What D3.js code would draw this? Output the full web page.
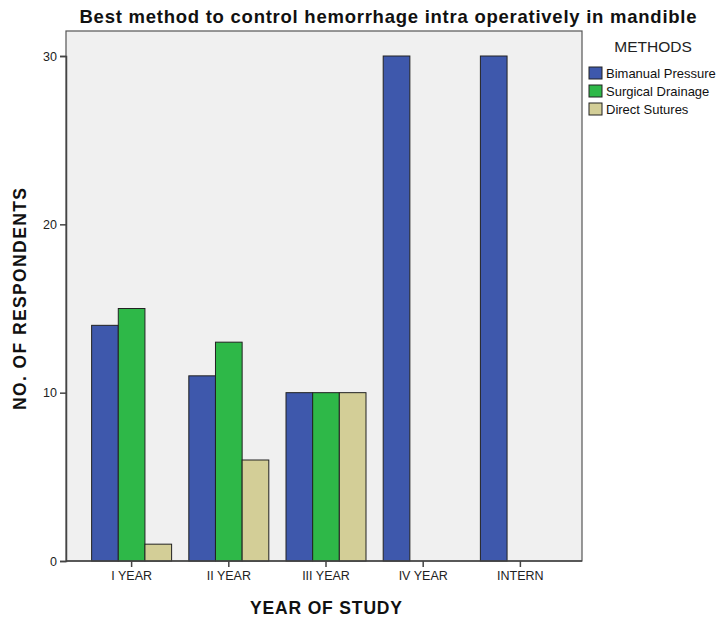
<!DOCTYPE html>
<html><head><meta charset="utf-8">
<script src="https://cdn.jsdelivr.net/npm/d3@7"></script>
<style>body{margin:0;background:#fff}svg{display:block}text{font-family:"Liberation Sans",Arial,sans-serif}</style>
</head><body><svg id="c" width="721" height="622"></svg>
<script>
const categories = ["I YEAR","II YEAR","III YEAR","IV YEAR","INTERN"];
const seriesNames = ["Bimanual Pressure","Surgical Drainage","Direct Sutures"];
const bimanual = [14,11,10,30,30];
const surgical = [15,13,10,0,0];
const sutures = [1,6,10,0,0];
const yTicks = [0,10,20,30];
const colors = ["#3e58ac","#2eb848","#d3ce97"];

const series = [bimanual, surgical, sutures];
const svg = d3.select("#c");
const L=66,R=582,T=31,B=561;
const x = d3.scaleBand().domain(categories).range([L+2,R+2]).paddingInner(0.177).paddingOuter(0.243);
const xs = d3.scaleBand().domain(seriesNames).range([0,x.bandwidth()]);
const y = d3.scaleLinear().domain([0,30]).range([B,56]);

svg.append("rect").attr("x",L).attr("y",T).attr("width",R-L).attr("height",B-T).attr("fill","#f0f0f0").attr("stroke","#555").attr("stroke-width",1.2);

categories.forEach((c,i)=>{
  seriesNames.forEach((s,j)=>{
    const v = series[j][i];
    if(v<=0) return;
    svg.append("rect").attr("x",x(c)+xs(s)).attr("y",y(v)).attr("width",xs.bandwidth()).attr("height",y(0)-y(v))
      .attr("fill",colors[j]).attr("stroke","#222").attr("stroke-width",1);
  });
});

const ya = svg.append("g").attr("transform",`translate(${L},0)`).call(d3.axisLeft(y).tickValues(yTicks).tickSize(6).tickPadding(3));
const xa = svg.append("g").attr("transform",`translate(0,${B})`).call(d3.axisBottom(x).tickSize(6).tickPadding(4));
xa.select(".domain").remove();
svg.append("line").attr("x1",L).attr("x2",R).attr("y1",B).attr("y2",B).attr("stroke","#444").attr("stroke-width",1.5);
[ya,xa].forEach(a=>{a.select(".domain").attr("stroke","#444").attr("stroke-width",1.5);a.selectAll(".tick line").attr("stroke","#444").attr("stroke-width",1.5);a.selectAll("text").attr("font-size",12.5).attr("fill","#222").attr("font-family","'Liberation Sans',Arial,sans-serif");});

svg.append("text").attr("x",388).attr("y",23).attr("text-anchor","middle").attr("font-size",18.5).attr("font-weight","bold").attr("fill","#111")
  .attr("textLength",617).attr("lengthAdjust","spacing").text("Best method to control hemorrhage intra operatively in mandible");
svg.append("text").attr("x",326).attr("y",614).attr("text-anchor","middle").attr("font-size",17.5).attr("font-weight","bold").attr("fill","#111")
  .attr("textLength",152).attr("lengthAdjust","spacing").text("YEAR OF STUDY");
svg.append("text").attr("transform","translate(26,299) rotate(-90)").attr("text-anchor","middle").attr("font-size",17.5).attr("font-weight","bold").attr("fill","#111")
  .attr("textLength",222).attr("lengthAdjust","spacing").text("NO. OF RESPONDENTS");

svg.append("text").attr("x",653).attr("y",52).attr("text-anchor","middle").attr("font-size",15.5).attr("fill","#222").text("METHODS");
seriesNames.forEach((s,j)=>{
  const yy = 67 + j*18;
  svg.append("rect").attr("x",589).attr("y",yy).attr("width",13).attr("height",12).attr("fill",colors[j]).attr("stroke","#222").attr("stroke-width",1);
  svg.append("text").attr("x",606).attr("y",yy+11).attr("font-size",13).attr("fill","#111").text(s);
});
</script></body></html>
